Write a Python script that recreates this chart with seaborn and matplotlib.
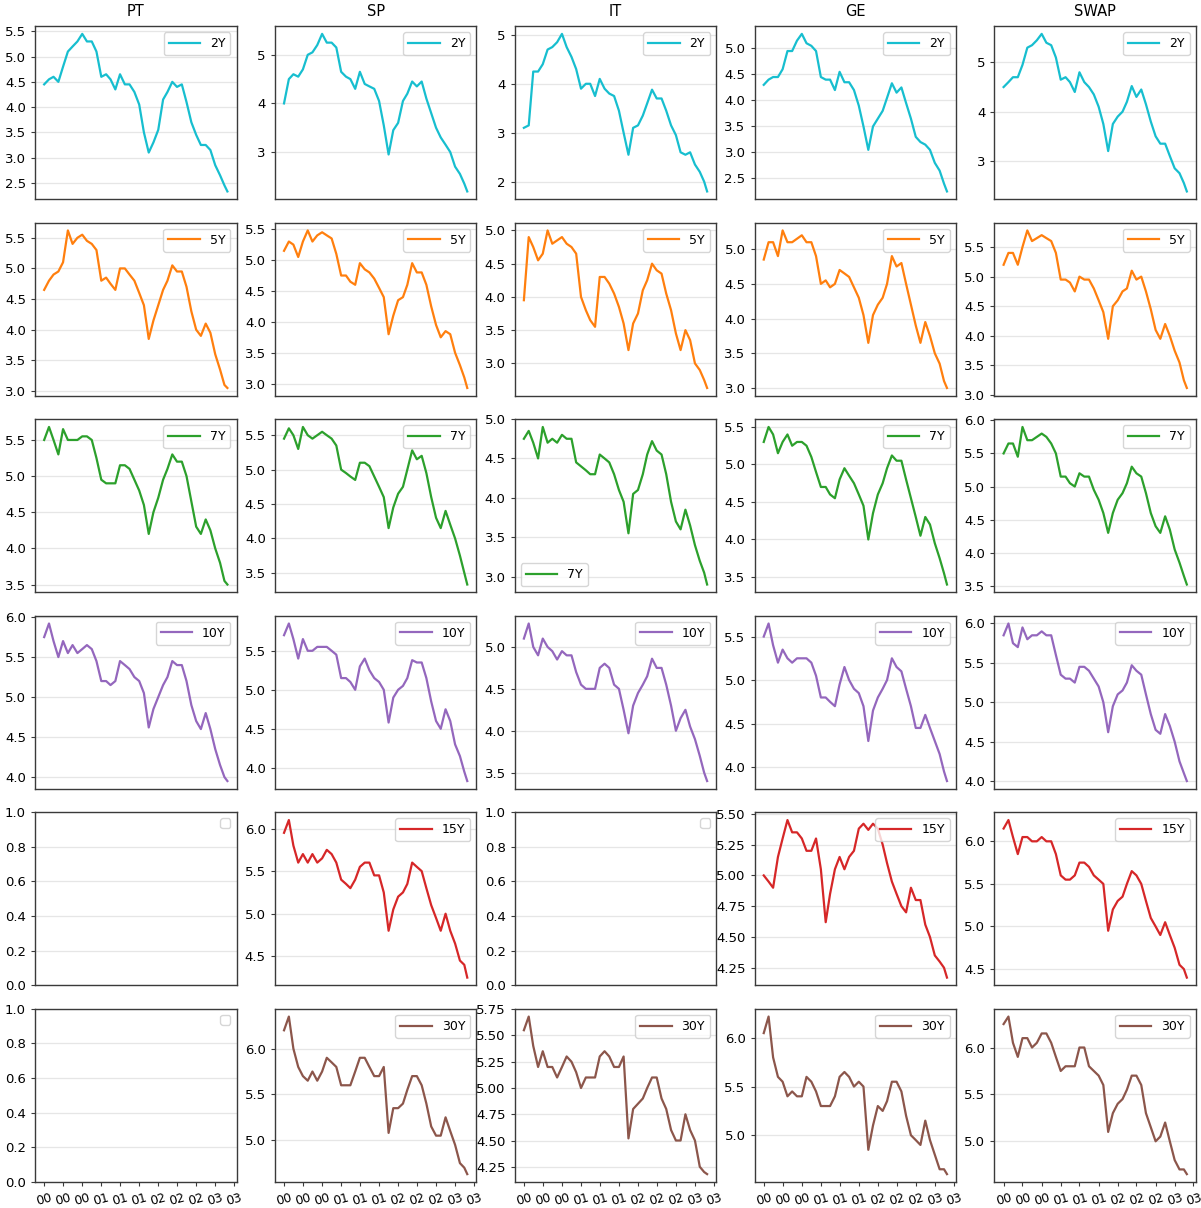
import pandas as pd
import matplotlib
matplotlib.use("Agg")
import matplotlib.pyplot as plt
import matplotlib.dates as mdates
from matplotlib.ticker import MaxNLocator
import seaborn as sns

# Column (market) and row (tenor) labels
markets = ["PT", "SP", "IT", "GE", "SWAP"]
tenors = ["2Y", "5Y", "7Y", "10Y", "15Y", "30Y"]

# Monthly observation dates, Jan 2000 .. Mar 2003
dates = list(pd.date_range("2000-01-01", "2003-03-01", freq="MS")) + [pd.Timestamp("2003-03-20")]

# ---- 2Y yields ----
pt_2y = [4.45, 4.55, 4.6, 4.5, 4.8, 5.1, 5.2, 5.3, 5.45, 5.3, 5.3, 5.1, 4.6, 4.65, 4.55, 4.35, 4.65, 4.45, 4.45, 4.3,
         4.05, 3.5, 3.1, 3.3, 3.55, 4.15, 4.3, 4.5, 4.4, 4.45, 4.1, 3.7, 3.45, 3.25, 3.25, 3.15, 2.85, 2.65, 2.45, 2.33]
sp_2y = [4.0, 4.5, 4.6, 4.55, 4.7, 5.0, 5.05, 5.2, 5.43, 5.25, 5.25, 5.15, 4.65, 4.55, 4.5, 4.3, 4.65, 4.4, 4.35, 4.3,
         4.05, 3.55, 2.95, 3.45, 3.6, 4.05, 4.2, 4.45, 4.35, 4.45, 4.1, 3.8, 3.5, 3.3, 3.15, 3.0, 2.7, 2.55, 2.35, 2.19]
it_2y = [3.1, 3.15, 4.25, 4.25, 4.4, 4.7, 4.75, 4.85, 5.02, 4.75, 4.55, 4.3, 3.9, 4.0, 4.0, 3.75, 4.1, 3.9, 3.8, 3.75,
         3.45, 3.0, 2.55, 3.1, 3.15, 3.35, 3.6, 3.88, 3.7, 3.7, 3.45, 3.15, 2.95, 2.6, 2.55, 2.6, 2.35, 2.2, 2.0, 1.8]
ge_2y = [4.3, 4.4, 4.45, 4.45, 4.6, 4.95, 4.95, 5.15, 5.28, 5.1, 5.05, 4.95, 4.45, 4.4, 4.4, 4.2, 4.55, 4.35, 4.35, 4.2,
         3.9, 3.5, 3.05, 3.5, 3.65, 3.8, 4.05, 4.33, 4.15, 4.25, 3.95, 3.65, 3.3, 3.2, 3.15, 3.05, 2.8, 2.65, 2.4, 2.25]
swap_2y = [4.5, 4.6, 4.7, 4.7, 4.95, 5.3, 5.35, 5.45, 5.58, 5.4, 5.35, 5.1, 4.65, 4.7, 4.6, 4.4, 4.8, 4.6, 4.5, 4.35,
           4.1, 3.75, 3.2, 3.75, 3.9, 4.0, 4.2, 4.52, 4.3, 4.45, 4.15, 3.8, 3.5, 3.35, 3.35, 3.1, 2.85, 2.75, 2.55, 2.38]

# ---- 5Y yields ----
pt_5y = [4.65, 4.8, 4.9, 4.95, 5.1, 5.62, 5.4, 5.5, 5.55, 5.45, 5.4, 5.3, 4.8, 4.85, 4.75, 4.65, 5.0, 5.0, 4.9, 4.8,
         4.6, 4.4, 3.85, 4.15, 4.4, 4.65, 4.8, 5.05, 4.95, 4.95, 4.7, 4.3, 4.0, 3.9, 4.1, 3.95, 3.6, 3.35, 3.1, 3.05]
sp_5y = [5.15, 5.3, 5.25, 5.05, 5.3, 5.48, 5.3, 5.4, 5.45, 5.4, 5.35, 5.1, 4.75, 4.75, 4.65, 4.6, 4.95, 4.85, 4.8, 4.7,
         4.55, 4.4, 3.8, 4.1, 4.35, 4.4, 4.6, 4.95, 4.8, 4.8, 4.6, 4.25, 3.95, 3.75, 3.85, 3.8, 3.5, 3.3, 3.1, 2.93]
it_5y = [3.95, 4.9, 4.75, 4.55, 4.65, 5.0, 4.8, 4.85, 4.9, 4.8, 4.75, 4.65, 4.0, 3.8, 3.65, 3.55, 4.3, 4.3, 4.2, 4.05,
         3.85, 3.6, 3.2, 3.6, 3.75, 4.1, 4.25, 4.5, 4.4, 4.35, 4.05, 3.8, 3.45, 3.2, 3.5, 3.35, 3.0, 2.9, 2.75, 2.63]
ge_5y = [4.85, 5.1, 5.1, 4.9, 5.27, 5.1, 5.1, 5.15, 5.2, 5.1, 5.1, 4.9, 4.5, 4.55, 4.45, 4.5, 4.7, 4.65, 4.6, 4.45,
         4.3, 4.05, 3.65, 4.05, 4.2, 4.3, 4.5, 4.9, 4.75, 4.8, 4.5, 4.2, 3.9, 3.65, 3.95, 3.75, 3.5, 3.35, 3.1, 3.0]
swap_5y = [5.2, 5.4, 5.4, 5.2, 5.5, 5.78, 5.6, 5.65, 5.7, 5.65, 5.6, 5.4, 4.95, 4.95, 4.9, 4.75, 5.0, 4.95, 4.95, 4.8,
           4.6, 4.4, 3.95, 4.5, 4.6, 4.75, 4.8, 5.1, 4.95, 5.0, 4.75, 4.45, 4.1, 3.95, 4.2, 4.0, 3.75, 3.55, 3.25, 3.12]

# ---- 7Y yields ----
pt_7y = [5.5, 5.68, 5.5, 5.3, 5.65, 5.5, 5.5, 5.5, 5.55, 5.55, 5.5, 5.25, 4.95, 4.9, 4.9, 4.9, 5.15, 5.15, 5.1, 4.95,
         4.8, 4.6, 4.2, 4.5, 4.7, 4.95, 5.1, 5.3, 5.2, 5.2, 5.0, 4.65, 4.3, 4.2, 4.4, 4.25, 4.0, 3.8, 3.55, 3.5]
sp_7y = [5.45, 5.6, 5.5, 5.3, 5.62, 5.5, 5.45, 5.5, 5.55, 5.5, 5.45, 5.35, 5.0, 4.95, 4.9, 4.85, 5.1, 5.1, 5.05, 4.9,
         4.75, 4.6, 4.15, 4.45, 4.65, 4.75, 5.0, 5.28, 5.15, 5.2, 4.95, 4.6, 4.3, 4.15, 4.4, 4.2, 4.0, 3.75, 3.5, 3.33]
it_7y = [4.75, 4.85, 4.7, 4.5, 4.9, 4.7, 4.75, 4.7, 4.8, 4.75, 4.75, 4.45, 4.4, 4.35, 4.3, 4.3, 4.55, 4.5, 4.45, 4.3,
         4.1, 3.95, 3.55, 4.05, 4.1, 4.3, 4.55, 4.72, 4.6, 4.55, 4.3, 3.95, 3.7, 3.6, 3.85, 3.65, 3.4, 3.2, 3.05, 2.9]
ge_7y = [5.3, 5.5, 5.4, 5.15, 5.3, 5.4, 5.25, 5.3, 5.3, 5.25, 5.1, 4.9, 4.7, 4.7, 4.6, 4.55, 4.8, 4.95, 4.85, 4.75,
         4.6, 4.45, 4.0, 4.35, 4.6, 4.75, 4.95, 5.12, 5.05, 5.05, 4.8, 4.55, 4.3, 4.05, 4.3, 4.2, 3.95, 3.75, 3.55, 3.4]
swap_7y = [5.5, 5.65, 5.65, 5.45, 5.9, 5.7, 5.7, 5.75, 5.8, 5.75, 5.65, 5.5, 5.15, 5.15, 5.05, 5.0, 5.2, 5.15, 5.15, 4.95,
           4.8, 4.6, 4.3, 4.6, 4.8, 4.9, 5.05, 5.3, 5.2, 5.15, 4.9, 4.6, 4.4, 4.3, 4.55, 4.35, 4.05, 3.85, 3.65, 3.52]

# ---- 10Y yields ----
pt_10y = [5.75, 5.92, 5.7, 5.5, 5.7, 5.55, 5.65, 5.55, 5.6, 5.65, 5.6, 5.45, 5.2, 5.2, 5.15, 5.2, 5.45, 5.4, 5.35, 5.25,
          5.2, 5.05, 4.62, 4.85, 5.0, 5.15, 5.25, 5.45, 5.4, 5.4, 5.2, 4.9, 4.7, 4.6, 4.8, 4.6, 4.35, 4.15, 4.0, 3.95]
sp_10y = [5.7, 5.85, 5.65, 5.4, 5.65, 5.5, 5.5, 5.55, 5.55, 5.55, 5.5, 5.45, 5.15, 5.15, 5.1, 5.0, 5.3, 5.4, 5.25, 5.15,
          5.1, 5.0, 4.58, 4.9, 5.0, 5.05, 5.15, 5.38, 5.35, 5.35, 5.15, 4.85, 4.6, 4.5, 4.75, 4.6, 4.3, 4.15, 3.95, 3.83]
it_10y = [5.1, 5.28, 5.0, 4.9, 5.1, 5.0, 4.95, 4.85, 4.95, 4.9, 4.9, 4.7, 4.55, 4.5, 4.5, 4.5, 4.75, 4.8, 4.75, 4.55,
          4.5, 4.25, 3.97, 4.3, 4.45, 4.55, 4.65, 4.86, 4.75, 4.75, 4.55, 4.3, 4.0, 4.15, 4.25, 4.05, 3.9, 3.7, 3.5, 3.4]
ge_10y = [5.5, 5.65, 5.4, 5.2, 5.35, 5.25, 5.2, 5.25, 5.25, 5.25, 5.2, 5.05, 4.8, 4.8, 4.75, 4.7, 4.95, 5.15, 5.0, 4.9,
          4.85, 4.7, 4.3, 4.65, 4.8, 4.9, 5.0, 5.25, 5.15, 5.1, 4.9, 4.7, 4.45, 4.45, 4.6, 4.45, 4.3, 4.15, 3.95, 3.84]
swap_10y = [5.85, 6.0, 5.75, 5.7, 5.95, 5.8, 5.85, 5.85, 5.9, 5.85, 5.85, 5.6, 5.35, 5.3, 5.3, 5.25, 5.45, 5.45, 5.4, 5.3,
            5.2, 5.0, 4.62, 4.95, 5.1, 5.15, 5.25, 5.47, 5.4, 5.35, 5.1, 4.85, 4.65, 4.6, 4.85, 4.7, 4.5, 4.25, 4.1, 4.0]

# ---- 15Y yields ----
sp_15y = [5.95, 6.1, 5.8, 5.6, 5.7, 5.6, 5.7, 5.6, 5.65, 5.75, 5.7, 5.6, 5.4, 5.35, 5.3, 5.4, 5.55, 5.6, 5.6, 5.45,
          5.45, 5.25, 4.8, 5.05, 5.2, 5.25, 5.35, 5.6, 5.55, 5.5, 5.3, 5.1, 4.95, 4.8, 5.0, 4.8, 4.65, 4.45, 4.4, 4.25]
ge_15y = [5.0, 4.95, 4.9, 5.15, 5.3, 5.45, 5.35, 5.35, 5.3, 5.2, 5.2, 5.3, 5.05, 4.62, 4.85, 5.05, 5.15, 5.05, 5.15, 5.2,
          5.38, 5.42, 5.37, 5.42, 5.38, 5.25, 5.1, 4.95, 4.85, 4.75, 4.7, 4.9, 4.8, 4.8, 4.6, 4.5, 4.35, 4.3, 4.25, 4.17]
swap_15y = [6.15, 6.25, 6.05, 5.85, 6.05, 6.05, 6.0, 6.0, 6.05, 6.0, 6.0, 5.85, 5.6, 5.55, 5.55, 5.6, 5.75, 5.75, 5.7, 5.6,
            5.55, 5.5, 4.95, 5.2, 5.3, 5.35, 5.5, 5.65, 5.6, 5.5, 5.3, 5.1, 5.0, 4.9, 5.05, 4.9, 4.75, 4.55, 4.5, 4.4]

# ---- 30Y yields ----
sp_30y = [6.2, 6.35, 6.0, 5.8, 5.7, 5.65, 5.75, 5.65, 5.75, 5.9, 5.85, 5.8, 5.6, 5.6, 5.6, 5.75, 5.9, 5.9, 5.8, 5.7,
          5.7, 5.8, 5.08, 5.35, 5.35, 5.4, 5.55, 5.7, 5.7, 5.6, 5.4, 5.15, 5.05, 5.05, 5.25, 5.1, 4.95, 4.75, 4.7, 4.63]
it_30y = [5.55, 5.68, 5.4, 5.2, 5.35, 5.2, 5.2, 5.1, 5.2, 5.3, 5.25, 5.15, 5.0, 5.1, 5.1, 5.1, 5.3, 5.35, 5.3, 5.2,
          5.2, 5.3, 4.52, 4.8, 4.85, 4.9, 5.0, 5.1, 5.1, 4.9, 4.8, 4.6, 4.5, 4.5, 4.75, 4.6, 4.5, 4.25, 4.2, 4.18]
ge_30y = [6.05, 6.22, 5.8, 5.6, 5.55, 5.4, 5.45, 5.4, 5.4, 5.6, 5.55, 5.45, 5.3, 5.3, 5.3, 5.4, 5.6, 5.65, 5.6, 5.5,
          5.55, 5.5, 4.85, 5.1, 5.3, 5.25, 5.35, 5.55, 5.55, 5.45, 5.2, 5.0, 4.95, 4.9, 5.15, 4.95, 4.8, 4.65, 4.65, 4.6]
swap_30y = [6.25, 6.33, 6.05, 5.9, 6.1, 6.1, 6.0, 6.05, 6.15, 6.15, 6.05, 5.9, 5.75, 5.8, 5.8, 5.8, 6.0, 6.0, 5.8, 5.75,
            5.7, 5.6, 5.1, 5.3, 5.4, 5.45, 5.55, 5.7, 5.7, 5.6, 5.3, 5.15, 5.0, 5.05, 5.2, 5.0, 4.8, 4.7, 4.7, 4.65]

# Grid of series: rows = tenors, columns = markets (None = no data)
grid = [
    [pt_2y, sp_2y, it_2y, ge_2y, swap_2y],
    [pt_5y, sp_5y, it_5y, ge_5y, swap_5y],
    [pt_7y, sp_7y, it_7y, ge_7y, swap_7y],
    [pt_10y, sp_10y, it_10y, ge_10y, swap_10y],
    [None, sp_15y, None, ge_15y, swap_15y],
    [None, sp_30y, it_30y, ge_30y, swap_30y],
]

colors = {"2Y": "#17becf", "5Y": "#ff7f0e", "7Y": "#2ca02c",
          "10Y": "#9467bd", "15Y": "#d62728", "30Y": "#8c564b"}

fig, axes = plt.subplots(6, 5, figsize=(12.01, 12.08), dpi=100, sharex=True)
fig.subplots_adjust(left=35 / 1201, right=1196 / 1201, top=1 - 26 / 1208,
                    bottom=1 - 1182 / 1208, wspace=0.19, hspace=0.134)

for r, tenor in enumerate(tenors):
    for c, market in enumerate(markets):
        ax = axes[r, c]
        vals = grid[r][c]
        if vals is not None:
            df = pd.DataFrame({"date": dates, "yield": vals})
            sns.lineplot(data=df, x="date", y="yield", ax=ax, color=colors[tenor],
                         linewidth=1.6, label=tenor)
            loc = "lower left" if (market == "IT" and tenor == "7Y") else "upper right"
            ax.legend(loc=loc, fontsize=9, handlelength=2.5)
        else:
            ax.set_ylim(0, 1)
            ax.legend(handles=[], loc="upper right", fontsize=9)
        ax.yaxis.set_major_locator(MaxNLocator(nbins=7, steps=[1, 2, 2.5, 5, 10]))
        ax.set_xlabel("")
        ax.set_ylabel("")
        ax.grid(axis="y", color="#e6e6e6", linewidth=0.9)
        ax.set_axisbelow(True)
        for sp in ax.spines.values():
            sp.set_color("#3a3a3a")
            sp.set_linewidth(1.0)
        ax.tick_params(axis="y", labelsize=9.5, length=3, color="#3a3a3a")
        if r < len(tenors) - 1:
            ax.tick_params(axis="x", bottom=False, labelbottom=False)
        if r == 0:
            ax.set_title(market, fontsize=10.5, pad=7)

for ax in axes[-1, :]:
    ax.xaxis.set_major_locator(mdates.MonthLocator(bymonth=[1, 5, 9]))
    ax.xaxis.set_major_formatter(mdates.DateFormatter("%y"))
    ax.tick_params(axis="x", labelsize=9, length=3, color="#3a3a3a")
    for lbl in ax.get_xticklabels():
        lbl.set_rotation(15)
        lbl.set_ha("center")

fig.savefig("out.png", dpi=100)
